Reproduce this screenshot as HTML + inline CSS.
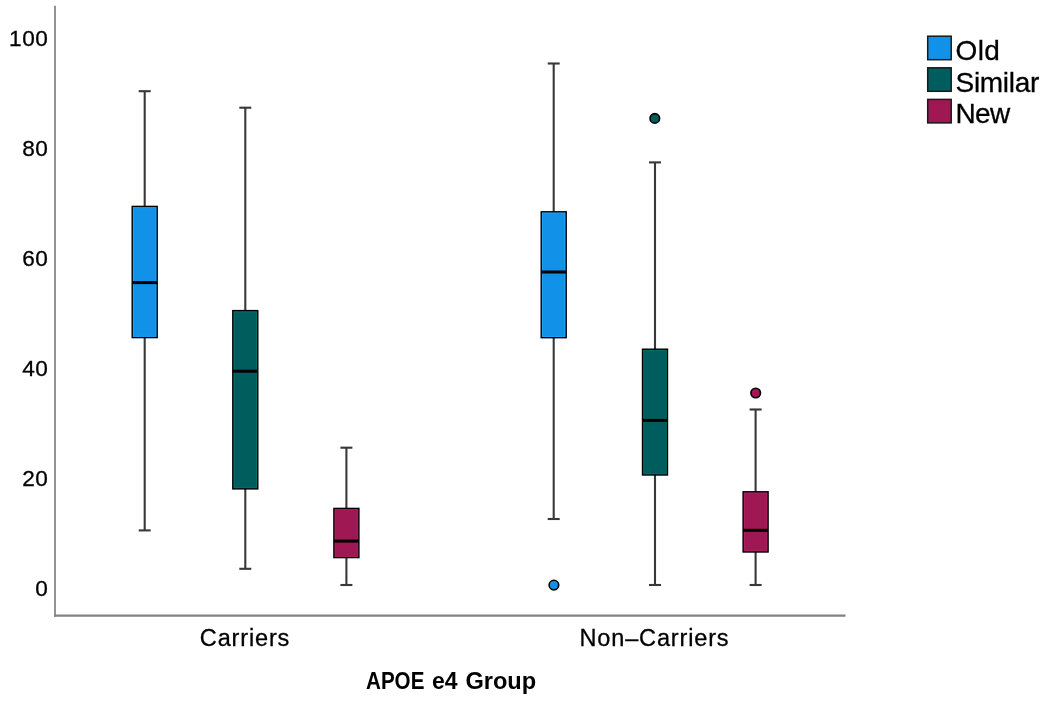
<!DOCTYPE html>
<html><head><meta charset="utf-8"><style>
html,body{margin:0;padding:0;background:#fff;}
body{width:1050px;height:704px;overflow:hidden;}
svg{display:block;will-change:transform;}
text{font-family:"Liberation Sans",sans-serif;fill:#000;stroke:#000;stroke-width:0.3px;}
.yl{font-size:22.6px;letter-spacing:0.55px;}
.xl{font-size:23.5px;letter-spacing:0.85px;}
.tt{font-size:23px;font-weight:bold;stroke-width:0;}
.lg{font-size:28px;}
</style></head><body>
<svg width="1050" height="704" viewBox="0 0 1050 704">
<line x1="55" y1="5.8" x2="55" y2="616.5" stroke="#939393" stroke-width="2"/>
<line x1="54" y1="615.7" x2="845.5" y2="615.7" stroke="#828282" stroke-width="2.3"/>
<line x1="144.7" y1="91.2" x2="144.7" y2="206.4" stroke="#383838" stroke-width="2.1"/>
<line x1="144.7" y1="337.6" x2="144.7" y2="530.4" stroke="#383838" stroke-width="2.1"/>
<line x1="138.7" y1="91.2" x2="150.7" y2="91.2" stroke="#383838" stroke-width="2.1"/>
<line x1="138.7" y1="530.4" x2="150.7" y2="530.4" stroke="#383838" stroke-width="2.1"/>
<rect x="132.20" y="206.4" width="25.0" height="131.20" fill="#1192e8" stroke="#000" stroke-width="1.4"/>
<rect x="133.50" y="207.70" width="22.40" height="128.60" fill="none" stroke="#2aaeff" stroke-width="0.9" opacity="0.55"/>
<line x1="132.20" y1="282.6" x2="157.20" y2="282.6" stroke="#000" stroke-width="3"/>
<line x1="245.3" y1="107.7" x2="245.3" y2="310.6" stroke="#383838" stroke-width="2.1"/>
<line x1="245.3" y1="488.9" x2="245.3" y2="568.8" stroke="#383838" stroke-width="2.1"/>
<line x1="239.3" y1="107.7" x2="251.3" y2="107.7" stroke="#383838" stroke-width="2.1"/>
<line x1="239.3" y1="568.8" x2="251.3" y2="568.8" stroke="#383838" stroke-width="2.1"/>
<rect x="232.80" y="310.6" width="25.0" height="178.30" fill="#005d5d" stroke="#000" stroke-width="1.4"/>
<rect x="234.10" y="311.90" width="22.40" height="175.70" fill="none" stroke="#0b7a78" stroke-width="0.9" opacity="0.55"/>
<line x1="232.80" y1="371.2" x2="257.80" y2="371.2" stroke="#000" stroke-width="3"/>
<line x1="346.4" y1="447.7" x2="346.4" y2="508.4" stroke="#383838" stroke-width="2.1"/>
<line x1="346.4" y1="557.6" x2="346.4" y2="585.0" stroke="#383838" stroke-width="2.1"/>
<line x1="340.4" y1="447.7" x2="352.4" y2="447.7" stroke="#383838" stroke-width="2.1"/>
<line x1="340.4" y1="585.0" x2="352.4" y2="585.0" stroke="#383838" stroke-width="2.1"/>
<rect x="333.90" y="508.4" width="25.0" height="49.20" fill="#9f1853" stroke="#000" stroke-width="1.4"/>
<rect x="335.20" y="509.70" width="22.40" height="46.60" fill="none" stroke="#c0266c" stroke-width="0.9" opacity="0.55"/>
<line x1="333.90" y1="541.1" x2="358.90" y2="541.1" stroke="#000" stroke-width="3"/>
<line x1="553.7" y1="63.5" x2="553.7" y2="211.8" stroke="#383838" stroke-width="2.1"/>
<line x1="553.7" y1="337.7" x2="553.7" y2="519.0" stroke="#383838" stroke-width="2.1"/>
<line x1="547.7" y1="63.5" x2="559.7" y2="63.5" stroke="#383838" stroke-width="2.1"/>
<line x1="547.7" y1="519.0" x2="559.7" y2="519.0" stroke="#383838" stroke-width="2.1"/>
<rect x="541.20" y="211.8" width="25.0" height="125.90" fill="#1192e8" stroke="#000" stroke-width="1.4"/>
<rect x="542.50" y="213.10" width="22.40" height="123.30" fill="none" stroke="#2aaeff" stroke-width="0.9" opacity="0.55"/>
<line x1="541.20" y1="272.0" x2="566.20" y2="272.0" stroke="#000" stroke-width="3"/>
<circle cx="553.9" cy="585.1" r="4.8" fill="#1192e8" stroke="#000" stroke-width="1.6"/>
<line x1="655.0" y1="162.4" x2="655.0" y2="349.2" stroke="#383838" stroke-width="2.1"/>
<line x1="655.0" y1="475.0" x2="655.0" y2="585.0" stroke="#383838" stroke-width="2.1"/>
<line x1="649.0" y1="162.4" x2="661.0" y2="162.4" stroke="#383838" stroke-width="2.1"/>
<line x1="649.0" y1="585.0" x2="661.0" y2="585.0" stroke="#383838" stroke-width="2.1"/>
<rect x="642.50" y="349.2" width="25.0" height="125.80" fill="#005d5d" stroke="#000" stroke-width="1.4"/>
<rect x="643.80" y="350.50" width="22.40" height="123.20" fill="none" stroke="#0b7a78" stroke-width="0.9" opacity="0.55"/>
<line x1="642.50" y1="420.4" x2="667.50" y2="420.4" stroke="#000" stroke-width="3"/>
<circle cx="654.8" cy="118.4" r="4.8" fill="#005d5d" stroke="#000" stroke-width="1.6"/>
<line x1="755.6" y1="409.5" x2="755.6" y2="491.8" stroke="#383838" stroke-width="2.1"/>
<line x1="755.6" y1="552.0" x2="755.6" y2="585.0" stroke="#383838" stroke-width="2.1"/>
<line x1="749.6" y1="409.5" x2="761.6" y2="409.5" stroke="#383838" stroke-width="2.1"/>
<line x1="749.6" y1="585.0" x2="761.6" y2="585.0" stroke="#383838" stroke-width="2.1"/>
<rect x="743.10" y="491.8" width="25.0" height="60.20" fill="#9f1853" stroke="#000" stroke-width="1.4"/>
<rect x="744.40" y="493.10" width="22.40" height="57.60" fill="none" stroke="#c0266c" stroke-width="0.9" opacity="0.55"/>
<line x1="743.10" y1="530.3" x2="768.10" y2="530.3" stroke="#000" stroke-width="3"/>
<circle cx="755.7" cy="393.0" r="4.8" fill="#9f1853" stroke="#000" stroke-width="1.6"/>
<text x="48.4" y="46.0" text-anchor="end" class="yl">100</text>
<text x="48.4" y="156.0" text-anchor="end" class="yl">80</text>
<text x="48.4" y="266.0" text-anchor="end" class="yl">60</text>
<text x="48.4" y="376.0" text-anchor="end" class="yl">40</text>
<text x="48.4" y="486.0" text-anchor="end" class="yl">20</text>
<text x="48.4" y="596.0" text-anchor="end" class="yl">0</text>
<text x="245" y="645.5" text-anchor="middle" class="xl">Carriers</text>
<text x="654.5" y="645.5" text-anchor="middle" class="xl">Non&#8211;Carriers</text>
<text x="366" y="689.3" class="tt" textLength="58.4" lengthAdjust="spacingAndGlyphs">APOE</text>
<text x="431.9" y="689.3" class="tt">e4</text>
<text x="465.4" y="689.3" class="tt" textLength="70.8" lengthAdjust="spacingAndGlyphs">Group</text>
<rect x="927.7" y="36.2" width="23.5" height="23.5" fill="#1192e8" stroke="#1a1a1a" stroke-width="1.5"/>
<text x="955.5" y="60.3" class="lg" style="letter-spacing:0.4px">Old</text>
<rect x="927.7" y="67.8" width="23.5" height="23.5" fill="#005d5d" stroke="#1a1a1a" stroke-width="1.5"/>
<text x="955.5" y="91.5" class="lg" style="letter-spacing:-0.3px">Similar</text>
<rect x="927.7" y="99.4" width="23.5" height="23.5" fill="#9f1853" stroke="#1a1a1a" stroke-width="1.5"/>
<text x="955.5" y="122.7" class="lg" style="letter-spacing:-0.6px">New</text>
</svg>
</body></html>
